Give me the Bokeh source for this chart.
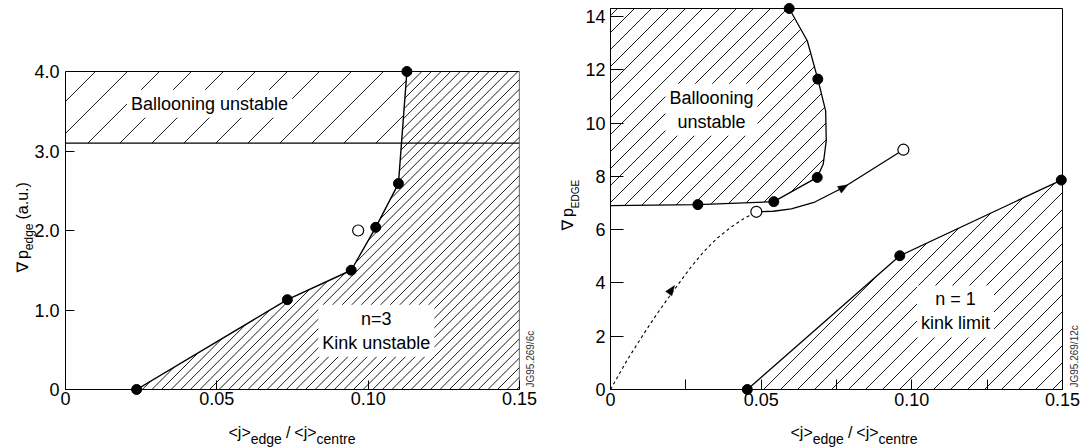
import math
import numpy as np
from bokeh.plotting import figure
from bokeh.models import Range1d, FixedTicker, Label
from bokeh.core.properties import value
from bokeh.layouts import row
from bokeh.embed import file_html
from bokeh.resources import INLINE

FONT = "Liberation Sans"

# ---------------- data: left panel (n=3 kink / ballooning) ----------------
L_kink_x = [0.0235, 0.0733, 0.0944, 0.1025, 0.1100, 0.1128]
L_kink_y = [0.00, 1.13, 1.50, 2.04, 2.59, 4.00]
L_open_x = [0.0967]
L_open_y = [2.00]
L_balloon_limit = 3.1
L_ymax = 4.0
L_xticks = [0, 0.05, 0.10, 0.15]
L_xtick_labels = ["0", "0.05", "0.10", "0.15"]
L_yticks = [0, 1, 2, 3, 4]
L_ytick_labels = ["0", "1.0", "2.0", "3.0", "4.0"]

# ---------------- data: right panel (n=1 kink / ballooning) ---------------
R_bal_x = [0.0593, 0.0653, 0.0688, 0.0714, 0.0716, 0.0706, 0.0686, 0.0542, 0.0290, 0.0]
R_bal_y = [14.30, 13.09, 11.65, 10.46, 9.34, 8.46, 7.96, 7.05, 6.94, 6.90]
R_bal_pts_x = [0.0593, 0.0688, 0.0686, 0.0542, 0.0290]
R_bal_pts_y = [14.30, 11.65, 7.96, 7.05, 6.94]
R_kink_x = [0.0454, 0.0960, 0.1496]
R_kink_y = [0.00, 5.02, 7.86]
R_traj_x = [0.0484, 0.0540, 0.0600, 0.0675, 0.0774, 0.0972]
R_traj_y = [6.67, 6.69, 6.78, 7.02, 7.59, 9.00]
R_dash_x = [0.0, 0.0055, 0.0111, 0.0155, 0.0199, 0.0232, 0.0266, 0.0310, 0.0354, 0.0398, 0.0442, 0.0484]
R_dash_y = [0.0, 1.10, 2.10, 2.85, 3.55, 4.06, 4.58, 5.18, 5.68, 6.08, 6.41, 6.67]
R_open_x = [0.0484, 0.0972]
R_open_y = [6.67, 9.00]
R_arrow_x = [0.0774, 0.0203]
R_arrow_y = [7.59, 3.75]
R_xticks = [0, 0.05, 0.10, 0.15]
R_xminor = [0.025, 0.075, 0.125]
R_xtick_labels = ["0", "0.05", "0.10", "0.15"]
R_yticks = [0, 2, 4, 6, 8, 10, 12, 14]
R_ytick_labels = ["0", "2", "4", "6", "8", "10", "12", "14"]

# ---------------- helpers ----------------
W = {' ': .278, '(': .333, ')': .333, '.': .278, '/': .278, '<': .584, '>': .584,
     'a': .556, 'c': .5, 'd': .556, 'e': .556, 'g': .556, 'j': .222, 'n': .556,
     'p': .556, 'r': .333, 't': .278, 'u': .556, 'E': .667, 'D': .722, 'G': .778,
     '\u2207': .838}


def tw(s, size):
    return sum(W.get(c, .556) for c in s) * size


def hatch(poly_x, poly_y, sx, sy, spacing):
    X = np.asarray(poly_x, float) * sx
    Y = np.asarray(poly_y, float) * sy
    n = len(X)
    cv = Y - X
    c = math.floor(cv.min() / spacing) * spacing
    xs, ys = [], []
    while c <= cv.max():
        pts = []
        for i in range(n):
            x1, y1, x2, y2 = X[i], Y[i], X[(i + 1) % n], Y[(i + 1) % n]
            f1, f2 = y1 - x1 - c, y2 - x2 - c
            if (f1 > 0) != (f2 > 0):
                t = f1 / (f1 - f2)
                pts.append(x1 + t * (x2 - x1))
        pts.sort()
        for k in range(0, len(pts) - 1, 2):
            xa, xb = pts[k], pts[k + 1]
            xs.append([xa / sx, xb / sx])
            ys.append([(xa + c) / sy, (xb + c) / sy])
        c += spacing
    return xs, ys


def arrowheads(ax, ay, lx, ly, sx, sy, length=10, half=3.8):
    """Triangles centred on (ax, ay), oriented along the local direction of line (lx, ly)."""
    LX = np.asarray(lx) * sx
    LY = np.asarray(ly) * sy
    xs, ys = [], []
    for x0, y0 in zip(ax, ay):
        X0, Y0 = x0 * sx, y0 * sy
        d = np.hypot(LX - X0, LY - Y0)
        i = int(np.argmin(d))
        i0, i1 = max(i - 1, 0), min(i + 1, len(LX) - 1)
        dx, dy = LX[i1] - LX[i0], LY[i1] - LY[i0]
        n = math.hypot(dx, dy)
        ux, uy = dx / n, dy / n
        px_, py_ = -uy, ux
        tip = (X0 + ux * length / 2, Y0 + uy * length / 2)
        b1 = (X0 - ux * length / 2 + px_ * half, Y0 - uy * length / 2 + py_ * half)
        b2 = (X0 - ux * length / 2 - px_ * half, Y0 - uy * length / 2 - py_ * half)
        xs.append([tip[0] / sx, b1[0] / sx, b2[0] / sx])
        ys.append([tip[1] / sy, b1[1] / sy, b2[1] / sy])
    return xs, ys


def make_fig(w, h, xr, yr, ml, mr, mt, mb):
    p = figure(width=w, height=h, x_range=Range1d(*xr), y_range=Range1d(*yr),
               output_backend="svg", toolbar_location=None,
               min_border_left=ml, min_border_right=mr, min_border_top=mt,
               min_border_bottom=mb)
    p.grid.visible = False
    p.outline_line_color = "black"
    p.outline_line_width = 1
    p.background_fill_color = "white"
    p.border_fill_color = "white"
    for ax in (p.xaxis[0], p.yaxis[0]):
        ax.major_tick_out = 0
        ax.minor_tick_out = 0
        ax.minor_tick_in = 0
        ax.axis_line_color = "black"
        ax.major_tick_line_color = "black"
        ax.minor_tick_line_color = "black"
        ax.major_label_text_font = FONT
        ax.major_label_text_font_size = "18px"
        ax.major_label_text_color = "black"
    return p


class Placer:
    """Text at pixel offsets from the frame's bottom-left corner, drawn unclipped."""

    def __init__(self, p, sx, sy):
        self.p, self.sx, self.sy = p, sx, sy

    def lab(self, text, dx, dy, size, angle=0.0, align="left", baseline="alphabetic",
            font=FONT, color="black"):
        self.p.text(x=[dx / self.sx], y=[dy / self.sy], text=[text],
                    text_font=value(font), text_font_size=value(f"{size}px"),
                    text_color=color, angle=angle, text_align=align,
                    text_baseline=baseline, level="overlay")

    def xlabel(self, start, base_main, base_sub):
        # (text, size, subscript?, gap after)
        pieces = [("<j>", 16, False, 0), ("edge", 14, True, 4), ("/", 16, False, 4),
                  ("<j>", 16, False, 0), ("centre", 14, True, 0)]
        pos = start
        for s, size, sub, gap in pieces:
            self.lab(s, pos, base_sub if sub else base_main, size)
            pos += tw(s, size) + gap

    def ylabel(self, pieces, start, base_main, base_sub):
        pos = start
        for s, size, sub, font, gap in pieces:
            self.lab(s, base_sub if sub else base_main, pos, size, angle=math.pi / 2, font=font)
            pos += tw(s, size) + gap


def region_label(p, text, x, y):
    p.add_layout(Label(x=x, y=y, text=text, text_font=FONT, text_font_size="18px",
                       text_color="black", text_align="center", text_baseline="middle",
                       background_fill_color="white", padding=4))


H = 447
MT, MB = 8, 58          # frame top/bottom shared by both panels (row aligns them)

# ================= left panel =================
LW = 545
L_ml, L_mr = 65, 26
L_box_top = 71          # pixel row of the drawn box top (y = 4.0)
L_yend = L_ymax * (H - MT - MB) / (H - L_box_top - MB)
p1 = make_fig(LW, H, (0, 0.15), (0, L_yend), L_ml, L_mr, MT, MB)
p1.outline_line_color = None
sx1 = (LW - L_ml - L_mr) / 0.15
sy1 = (H - MT - MB) / L_yend

x_at_limit = float(np.interp(L_balloon_limit, L_kink_y, L_kink_x))
bal_px = [0, x_at_limit, L_kink_x[-1], 0]
bal_py = [L_balloon_limit, L_balloon_limit, L_ymax, L_ymax]
kink_px = L_kink_x + [0.15, 0.15]
kink_py = L_kink_y + [L_ymax, 0]

hx, hy = hatch(bal_px, bal_py, sx1, sy1, 32)
p1.multi_line(hx, hy, line_color="black", line_width=0.9)
hx, hy = hatch(kink_px, kink_py, sx1, sy1, 9.6)
p1.multi_line(hx, hy, line_color="black", line_width=0.9)

# drawn box (top and right sides)
p1.line([0, 0.15, 0.15], [L_ymax, L_ymax, 0], line_color="black", line_width=1.2)
p1.line([0, 0.15], [L_balloon_limit, L_balloon_limit], line_color="black", line_width=1.3)
p1.line(L_kink_x, L_kink_y, line_color="black", line_width=1.4)
p1.scatter(L_kink_x, L_kink_y, size=10, color="black", level="overlay")
p1.scatter(L_open_x, L_open_y, size=11, fill_color="white", line_color="black",
           line_width=1.2, level="overlay")

p1.xaxis[0].ticker = FixedTicker(ticks=L_xticks)
p1.xaxis[0].major_label_overrides = dict(zip(L_xticks, L_xtick_labels))
p1.xaxis[0].major_tick_in = 9
p1.xaxis[0].major_label_standoff = 2
p1.yaxis[0].ticker = FixedTicker(ticks=L_yticks)
p1.yaxis[0].major_label_overrides = dict(zip(L_yticks, L_ytick_labels))
p1.yaxis[0].major_tick_in = 9
p1.yaxis[0].major_label_standoff = 6
p1.yaxis[0].bounds = (0, L_ymax)

region_label(p1, "Ballooning unstable", 0.0476, 3.595)
region_label(p1, "n=3\nKink unstable", 0.1027, 0.74)
pl1 = Placer(p1, sx1, sy1)
fw1 = LW - L_ml - L_mr
pl1.lab("JG95.269/6c", fw1 + 11, 2, 10, angle=math.pi / 2, color="#333333")
pl1.xlabel(163, -43, -49.5)
pl1.ylabel([("\u2207", 16, False, "DejaVu Sans", 0), ("p", 16, False, FONT, 0),
            ("edge", 12, True, FONT, 4), ("(a.u.)", 16, False, FONT, 0)], 117, -43.3, -36.5)

# ================= right panel =================
RW = 538
R_ml, R_mr = 65, 21
p2 = make_fig(RW, H, (0, 0.15), (0, 14.3), R_ml, R_mr, MT, MB)
sx2 = (RW - R_ml - R_mr) / 0.15
sy2 = (H - MT - MB) / 14.3

rb_px = [0] + R_bal_x
rb_py = [R_bal_y[0]] + R_bal_y
hx, hy = hatch(rb_px, rb_py, sx2, sy2, 17)
p2.multi_line(hx, hy, line_color="black", line_width=0.9)
rk_px = R_kink_x + [0.15, 0.15]
rk_py = R_kink_y + [R_kink_y[-1], 0]
hx, hy = hatch(rk_px, rk_py, sx2, sy2, 17)
p2.multi_line(hx, hy, line_color="black", line_width=0.9)

p2.line(R_bal_x, R_bal_y, line_color="black", line_width=1.3)
p2.line(R_kink_x, R_kink_y, line_color="black", line_width=1.3)
p2.line(R_traj_x, R_traj_y, line_color="black", line_width=1.3)
p2.line(R_dash_x, R_dash_y, line_color="black", line_width=1.1, line_dash="3 3")
ax_s, ay_s = arrowheads(R_arrow_x[:1], R_arrow_y[:1], R_traj_x, R_traj_y, sx2, sy2)
ax_d, ay_d = arrowheads(R_arrow_x[1:], R_arrow_y[1:], R_dash_x, R_dash_y, sx2, sy2)
p2.patches(ax_s + ax_d, ay_s + ay_d, fill_color="black", line_color="black", line_width=0.5)
p2.scatter(R_bal_pts_x, R_bal_pts_y, size=10, color="black", level="overlay")
p2.scatter(R_kink_x, R_kink_y, size=10, color="black", level="overlay")
p2.scatter(R_open_x, R_open_y, size=11, fill_color="white", line_color="black",
           line_width=1.2, level="overlay")

p2.xaxis[0].ticker = FixedTicker(ticks=R_xticks, minor_ticks=R_xminor)
p2.xaxis[0].major_label_overrides = dict(zip(R_xticks, R_xtick_labels))
p2.xaxis[0].major_tick_in = 10
p2.xaxis[0].minor_tick_in = 10
p2.xaxis[0].major_label_standoff = 3
p2.yaxis[0].ticker = FixedTicker(ticks=R_yticks)
p2.yaxis[0].major_label_overrides = dict(zip(R_yticks, R_ytick_labels))
p2.yaxis[0].major_tick_in = 13
p2.yaxis[0].major_label_standoff = 5

region_label(p2, "Ballooning\nunstable", 0.0335, 10.5)
region_label(p2, "n = 1\nkink limit", 0.1145, 2.93)
pl2 = Placer(p2, sx2, sy2)
fw2 = RW - R_ml - R_mr
pl2.lab("JG95.269/12c", fw2 + 12, 2, 10, angle=math.pi / 2, color="#333333")
pl2.xlabel(180, -43, -49.5)
pl2.ylabel([("\u2207", 16, False, "DejaVu Sans", 0), ("p", 16, False, FONT, 0),
            ("EDGE", 10, True, FONT, 0)], 159, -43, -35)

layout = row(p1, p2)
open("out.html", "w").write(file_html(layout, INLINE))
